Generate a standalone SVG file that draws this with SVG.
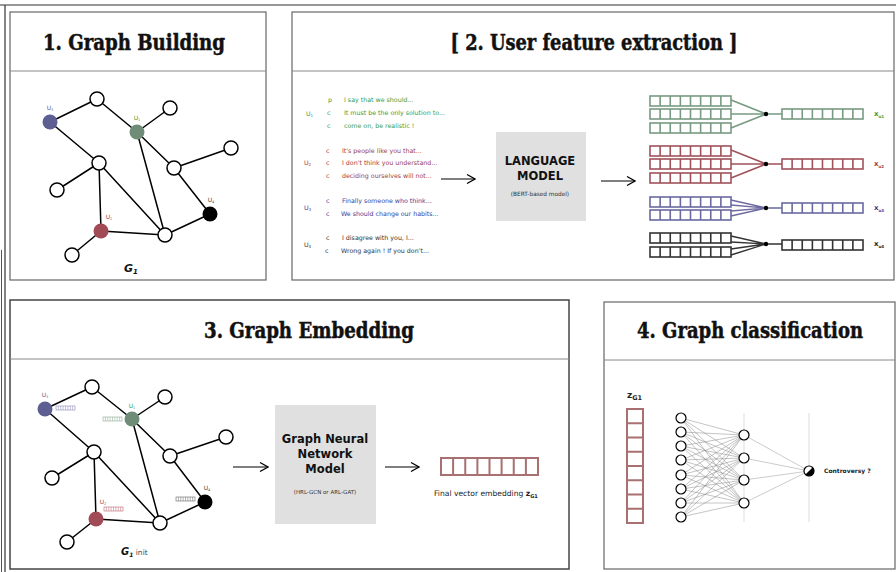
<svg xmlns="http://www.w3.org/2000/svg" xmlns:xlink="http://www.w3.org/1999/xlink" width="896" height="572" viewBox="0 0 896 572">
<style>
.panel{fill:#fff;stroke:#666;stroke-width:1.2}
.sep{stroke:#888;stroke-width:1}
.title{font-family:"DejaVu Serif","Liberation Serif",serif;font-weight:bold;font-size:23px;font-stretch:condensed;fill:#111;stroke:#111;stroke-width:0.5}
.edge{stroke:#000;stroke-width:1.5;fill:none}
.wn{fill:#fff;stroke:#000;stroke-width:1.5}
.sans{font-family:"DejaVu Sans","Liberation Sans",sans-serif}
.lab{font-family:"DejaVu Sans","Liberation Sans",sans-serif;font-size:6px}
.msg{font-family:"DejaVu Sans","Liberation Sans",sans-serif;font-size:6.3px}
.arrow{stroke:#000;stroke-width:1.2;fill:none;marker-end:url(#ah)}
.vec{fill:#fff;stroke:currentColor;stroke-width:1.6}
.box{fill:#e0e0e0}
.nn{stroke:#888;stroke-width:0.5;fill:none}
.nnode{fill:#fff;stroke:#000;stroke-width:1.2}
</style>
<defs>
<marker id="ah" viewBox="0 0 10 10" refX="9" refY="5" markerWidth="10" markerHeight="10" markerUnits="userSpaceOnUse" orient="auto">
<path d="M1,0.5 L9,5 L1,9.5" fill="none" stroke="#000" stroke-width="1.2"/>
</marker>
<g id="hv">
<rect class="vec" x="0" y="0" width="81" height="10"/>
<path d="M10.125,0V10M20.25,0V10M30.375,0V10M40.5,0V10M50.625,0V10M60.75,0V10M70.875,0V10" stroke="currentColor" stroke-width="1.6" fill="none"/>
</g>
<g id="tv">
<rect x="0" y="0" width="19" height="4" fill="#fff" stroke="currentColor" stroke-width="0.6"/>
<path d="M2.375,0V4M4.75,0V4M7.125,0V4M9.5,0V4M11.875,0V4M14.25,0V4M16.625,0V4" stroke="currentColor" stroke-width="0.5"/>
</g>
</defs>

<!-- outer frame -->
<g id="frame">
<line x1="0" y1="5" x2="896" y2="5" stroke="#333" stroke-width="1.2"/>
<line x1="5" y1="5" x2="5" y2="572" stroke="#333" stroke-width="1.2"/>
<line x1="1.5" y1="250" x2="1.5" y2="572" stroke="#555" stroke-width="1"/>
</g>

<!-- Panel 1 -->
<g id="panel1">
<rect class="panel" x="10" y="12" width="256" height="268"/>
<line class="sep" x1="10" y1="71" x2="266" y2="71"/>
<text class="title" x="134" y="50" text-anchor="middle" textLength="182" lengthAdjust="spacingAndGlyphs">1. Graph Building</text>
</g>

<!-- Panel 2 -->
<g id="panel2">
<rect class="panel" x="292" y="12" width="602" height="268"/>
<line class="sep" x1="292" y1="71" x2="894" y2="71"/>
<text class="title" x="594" y="50" text-anchor="middle" textLength="287" lengthAdjust="spacingAndGlyphs">[ 2. User feature extraction ]</text>
</g>

<!-- Panel 3 -->
<g id="panel3">
<rect class="panel" x="10" y="300" width="559" height="269" style="stroke:#444;stroke-width:1.5"/>
<line class="sep" x1="10" y1="359" x2="569" y2="359"/>
<text class="title" x="309" y="338" text-anchor="middle" textLength="210" lengthAdjust="spacingAndGlyphs">3. Graph Embedding</text>
</g>

<!-- Panel 4 -->
<g id="panel4">
<rect class="panel" x="604" y="302" width="291" height="267"/>
<line class="sep" x1="604" y1="360" x2="895" y2="360"/>
<text class="title" x="750" y="338" text-anchor="middle" textLength="226" lengthAdjust="spacingAndGlyphs">4. Graph classification</text>
</g>

<!-- Graph 1 -->
<g id="graph1">
<g id="g1-edges">
<path class="edge" d="M50,122L97,99M97,99L137,132M137,132L170,108M50,122L99,163M99,163L57,190M99,163L101,231M99,163L165,235M137,132L165,235M137,132L174,168M174,168L231,148M174,168L210,214M210,214L165,235M101,231L165,235M101,231L72,255"/>
</g>
<g id="g1-u3"><circle cx="50" cy="122" r="7.5" fill="#5d5e91"/><text class="lab" x="50" y="110" text-anchor="middle" fill="#5d5e91" font-size="5.5">U<tspan font-size="3.5" dy="1">3</tspan></text></g>
<g id="g1-n1"><circle class="wn" cx="97" cy="99" r="7"/></g>
<g id="g1-n2"><circle class="wn" cx="170" cy="108" r="7"/></g>
<g id="g1-u1"><circle cx="137" cy="132" r="7.5" fill="#6f8c78"/><text class="lab" x="137" y="120" text-anchor="middle" fill="#3d9a3d" font-size="5.5">U<tspan font-size="3.5" dy="1">1</tspan></text></g>
<g id="g1-n3"><circle class="wn" cx="231" cy="148" r="7"/></g>
<g id="g1-n4"><circle class="wn" cx="99" cy="163" r="7"/></g>
<g id="g1-n5"><circle class="wn" cx="174" cy="168" r="7"/></g>
<g id="g1-n6"><circle class="wn" cx="57" cy="190" r="7"/></g>
<g id="g1-u4"><circle cx="210" cy="214" r="7.5" fill="#000"/><text class="lab" x="211" y="202" text-anchor="middle" fill="#444" font-size="5.5">U<tspan font-size="3.5" dy="1">4</tspan></text></g>
<g id="g1-u2"><circle cx="101" cy="231" r="7.5" fill="#a04b55"/><text class="lab" x="109" y="219" text-anchor="middle" fill="#a04b55" font-size="5.5">U<tspan font-size="3.5" dy="1">2</tspan></text></g>
<g id="g1-n7"><circle class="wn" cx="165" cy="235" r="7"/></g>
<g id="g1-n8"><circle class="wn" cx="72" cy="255" r="7"/></g>
<text class="sans" x="124" y="272" font-size="11" font-weight="bold" font-style="italic" fill="#111">G<tspan font-size="7" dy="1.5">1</tspan></text>
</g>

<!-- Panel 2 content: messages -->
<g id="messages">
<g fill="#3d9a3d">
<text class="msg" x="306" y="116">U<tspan font-size="4" dy="1">1</tspan></text>
<text class="msg" x="328" y="102">p</text><text class="msg" x="344" y="102">I say that we should...</text>
<text class="msg" x="327" y="115">c</text><text class="msg" x="344" y="115">It must be the only solution to...</text>
<text class="msg" x="327" y="128">c</text><text class="msg" x="344" y="128">come on, be realistic !</text>
</g>
<g fill="#a03c44">
<text class="msg" x="304" y="165">U<tspan font-size="4" dy="1">2</tspan></text>
<text class="msg" x="326" y="153">c</text><text class="msg" x="342" y="153">It's people like you that...</text>
<text class="msg" x="326" y="165">c</text><text class="msg" x="342" y="165">I don't think you understand...</text>
<text class="msg" x="326" y="178">c</text><text class="msg" x="342" y="178">deciding ourselves will not...</text>
</g>
<g fill="#3c3c9a">
<text class="msg" x="304" y="210">U<tspan font-size="4" dy="1">3</tspan></text>
<text class="msg" x="326" y="203">c</text><text class="msg" x="342" y="203">Finally someone who think...</text>
<text class="msg" x="326" y="216">c</text><text class="msg" x="341" y="216">We should change our habits...</text>
</g>
<g fill="#333">
<text class="msg" x="304" y="247">U<tspan font-size="4" dy="1">4</tspan></text>
<text class="msg" x="326" y="240">c</text><text class="msg" x="342" y="240">I disagree with you, I...</text>
<text class="msg" x="325" y="253">c</text><text class="msg" x="341" y="253">Wrong again ! If you don't...</text>
</g>
</g>

<g id="lm">
<rect class="box" x="496" y="132" width="90" height="89"/>
<text class="sans" x="540" y="165" text-anchor="middle" font-size="11.5" font-weight="bold" fill="#111">LANGUAGE</text>
<text class="sans" x="540" y="180" text-anchor="middle" font-size="11.5" font-weight="bold" fill="#111">MODEL</text>
<text class="sans" x="540" y="196" text-anchor="middle" font-size="5.8" fill="#333">(BERT-based model)</text>
</g>

<!-- vectors panel 2 -->
<g id="vectors">
<g style="color:#789a82">
<use xlink:href="#hv" x="650" y="96"/><use xlink:href="#hv" x="650" y="109"/><use xlink:href="#hv" x="650" y="123"/>
<path d="M731,100L766,114M731,114L766,114M731,128L766,114M766,114L782,114" stroke="currentColor" stroke-width="1.6" fill="none"/>
<use xlink:href="#hv" x="782" y="109"/>
</g>
<g style="color:#a0525a">
<use xlink:href="#hv" x="650" y="146"/><use xlink:href="#hv" x="650" y="159"/><use xlink:href="#hv" x="650" y="173"/>
<path d="M731,150L766,164M731,164L766,164M731,178L766,164M766,164L782,164" stroke="currentColor" stroke-width="1.6" fill="none"/>
<use xlink:href="#hv" x="782" y="159"/>
</g>
<g style="color:#6a6aa0">
<use xlink:href="#hv" x="650" y="197"/><use xlink:href="#hv" x="650" y="210"/>
<path d="M731,200L766,208M731,205L766,208M731,211L766,208M731,216L766,208M766,208L782,208" stroke="currentColor" stroke-width="1.4" fill="none"/>
<use xlink:href="#hv" x="782" y="203"/>
</g>
<g style="color:#333">
<use xlink:href="#hv" x="650" y="233"/><use xlink:href="#hv" x="650" y="247"/>
<path d="M731,236L766,244M731,242L766,244M731,249L766,244M731,255L766,244M766,244L782,244" stroke="currentColor" stroke-width="1.4" fill="none"/>
<use xlink:href="#hv" x="782" y="240"/>
</g>
<circle cx="766" cy="114" r="2.2" fill="#000"/>
<circle cx="766" cy="164" r="2.2" fill="#000"/>
<circle cx="766" cy="208" r="2.2" fill="#000"/>
<circle cx="766" cy="244" r="2.2" fill="#000"/>
<text class="sans" x="874" y="116" font-size="7" font-weight="bold" fill="#3d9a3d">x<tspan font-size="4" dy="1.5">u1</tspan></text>
<text class="sans" x="874" y="166" font-size="7" font-weight="bold" fill="#a03c44">x<tspan font-size="4" dy="1.5">u2</tspan></text>
<text class="sans" x="874" y="210" font-size="7" font-weight="bold" fill="#3c3c9a">x<tspan font-size="4" dy="1.5">u3</tspan></text>
<text class="sans" x="874" y="246" font-size="7" font-weight="bold" fill="#222">x<tspan font-size="4" dy="1.5">u4</tspan></text>
</g>

<!-- Graph 3 (G1 init) -->
<g id="graph3">
<g id="g3-edges">
<path class="edge" d="M45,409L92,387M92,387L132,419M132,419L165,397M45,409L94,452M94,452L52,478M94,452L96,519M94,452L160,523M132,419L160,523M132,419L170,456M170,456L226,437M170,456L205,502M205,502L160,523M96,519L160,523M96,519L67,542"/>
</g>
<g id="g3-u3"><circle cx="45" cy="409" r="7.5" fill="#5d5e91"/><text class="lab" x="45" y="397" text-anchor="middle" fill="#5d5e91" font-size="5.5">U<tspan font-size="3.5" dy="1">3</tspan></text><use xlink:href="#tv" x="56" y="406" style="color:#8888bb"/></g>
<g id="g3-n1"><circle class="wn" cx="92" cy="387" r="7"/></g>
<g id="g3-n2"><circle class="wn" cx="165" cy="397" r="7"/></g>
<g id="g3-u1"><circle cx="132" cy="419" r="7.5" fill="#6f8c78"/><text class="lab" x="132" y="408" text-anchor="middle" fill="#3d9a3d" font-size="5.5">U<tspan font-size="3.5" dy="1">1</tspan></text><use xlink:href="#tv" x="103" y="417" style="color:#8aa893"/></g>
<g id="g3-n3"><circle class="wn" cx="226" cy="437" r="7"/></g>
<g id="g3-n4"><circle class="wn" cx="94" cy="452" r="7"/></g>
<g id="g3-n5"><circle class="wn" cx="170" cy="456" r="7"/></g>
<g id="g3-n6"><circle class="wn" cx="52" cy="478" r="7"/></g>
<g id="g3-u4"><circle cx="205" cy="502" r="7.5" fill="#000"/><text class="lab" x="207" y="490" text-anchor="middle" fill="#444" font-size="5.5">U<tspan font-size="3.5" dy="1">4</tspan></text><use xlink:href="#tv" x="176" y="497" style="color:#666"/></g>
<g id="g3-u2"><circle cx="96" cy="519" r="7.5" fill="#a04b55"/><text class="lab" x="103" y="504" text-anchor="middle" fill="#a04b55" font-size="5.5">U<tspan font-size="3.5" dy="1">2</tspan></text><use xlink:href="#tv" x="104" y="507" style="color:#b86670"/></g>
<g id="g3-n7"><circle class="wn" cx="160" cy="523" r="7"/></g>
<g id="g3-n8"><circle class="wn" cx="67" cy="542" r="7"/></g>
<text class="sans" x="121" y="555" font-size="10" font-weight="bold" font-style="italic" fill="#111">G<tspan font-size="6" dy="1.5">1</tspan><tspan dy="-1.5" font-weight="normal" font-style="normal" font-size="7.5" fill="#444"> init</tspan></text>
</g>

<g id="gnn">
<rect class="box" x="275" y="405" width="101" height="119"/>
<text class="sans" x="325" y="443" text-anchor="middle" font-size="11.5" font-weight="bold" fill="#111">Graph Neural</text>
<text class="sans" x="325" y="458" text-anchor="middle" font-size="11.5" font-weight="bold" fill="#111">Network</text>
<text class="sans" x="325" y="473" text-anchor="middle" font-size="11.5" font-weight="bold" fill="#111">Model</text>
<text class="sans" x="325" y="494" text-anchor="middle" font-size="5.5" fill="#333">(HRL-GCN or ARL-GAT)</text>
</g>

<g id="embedding">
<rect x="441" y="458" width="97" height="17" fill="#fff" stroke="#a87070" stroke-width="2"/>
<path d="M453.1,458V475M465.25,458V475M477.4,458V475M489.5,458V475M501.6,458V475M513.75,458V475M525.9,458V475" stroke="#a87070" stroke-width="2"/>
<text class="sans" x="434" y="496" font-size="7.6" fill="#222">Final vector embedding <tspan font-weight="bold">z</tspan><tspan font-weight="bold" font-size="5" dy="1.5">G1</tspan></text>
</g>

<!-- Panel 4 -->
<g id="zvec">
<text class="sans" x="627" y="398" font-size="9" font-weight="bold" fill="#222">z<tspan font-size="6.5" dy="2">G1</tspan></text>
<rect x="627" y="409" width="16" height="114" fill="#fff" stroke="#a87070" stroke-width="2"/>
<path d="M627,423.25H643M627,437.5H643M627,451.75H643M627,466H643M627,480.25H643M627,494.5H643M627,508.75H643" stroke="#a87070" stroke-width="2"/>
</g>

<g id="connectors">
<line class="arrow" x1="441" y1="179" x2="475" y2="179"/>
<line class="arrow" x1="601" y1="181" x2="635" y2="181"/>
<line class="arrow" x1="233" y1="467" x2="268" y2="467"/>
<line class="arrow" x1="385" y1="467" x2="419" y2="467"/>
</g>

<g id="nnet">
<line x1="744" y1="413" x2="744" y2="522" stroke="#ddd" stroke-width="1"/>
<line x1="809" y1="413" x2="809" y2="522" stroke="#ddd" stroke-width="1"/>
<g class="nn">
<path d="M681,418L744,435M681,418L744,458M681,418L744,480M681,418L744,503
M681,432L744,435M681,432L744,458M681,432L744,480M681,432L744,503
M681,446L744,435M681,446L744,458M681,446L744,480M681,446L744,503
M681,460L744,435M681,460L744,458M681,460L744,480M681,460L744,503
M681,475L744,435M681,475L744,458M681,475L744,480M681,475L744,503
M681,489L744,435M681,489L744,458M681,489L744,480M681,489L744,503
M681,503L744,435M681,503L744,458M681,503L744,480M681,503L744,503
M681,517L744,435M681,517L744,458M681,517L744,480M681,517L744,503"/>
<path d="M744,435L809,471M744,458L809,471M744,480L809,471M744,503L809,471" stroke="#999"/>
</g>
<g id="input-layer">
<circle class="nnode" cx="681" cy="418" r="5"/><circle class="nnode" cx="681" cy="432" r="5"/>
<circle class="nnode" cx="681" cy="446" r="5"/><circle class="nnode" cx="681" cy="460" r="5"/>
<circle class="nnode" cx="681" cy="475" r="5"/><circle class="nnode" cx="681" cy="489" r="5"/>
<circle class="nnode" cx="681" cy="503" r="5"/><circle class="nnode" cx="681" cy="517" r="5"/>
</g>
<g id="hidden-layer">
<circle class="nnode" cx="744" cy="435" r="5"/><circle class="nnode" cx="744" cy="458" r="5"/>
<circle class="nnode" cx="744" cy="480" r="5"/><circle class="nnode" cx="744" cy="503" r="5"/>
</g>
<g id="output">
<circle class="nnode" cx="809" cy="471" r="5"/>
<path d="M812.54,467.46A5,5 0 0,1 805.46,474.54Z" fill="#000"/>
<text class="sans" x="824" y="473" font-size="6" font-weight="bold" fill="#222">Controversy ?</text>
</g>
</g>
</svg>
